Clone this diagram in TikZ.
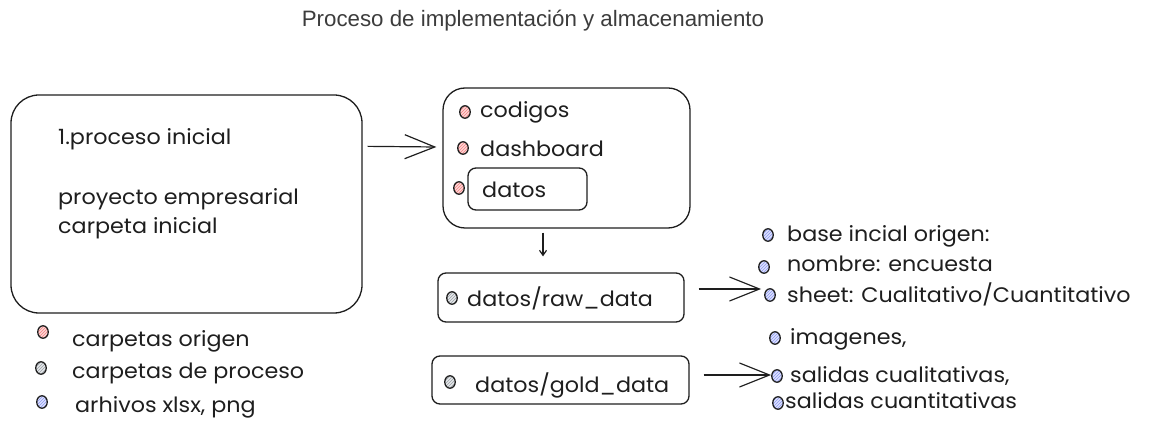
\documentclass[tikz,border=0pt]{standalone}
\usepackage{fontspec}
\setmainfont{Liberation Sans}
\newfontfamily\hand[FakeStretch=1.06]{Poppins}
\usetikzlibrary{arrows.meta,patterns,shapes.geometric}
\definecolor{ink}{HTML}{1E1E1E}
\definecolor{titlegray}{HTML}{3C3C3C}
\definecolor{redfill}{HTML}{FFD6D6}
\definecolor{redhatch}{HTML}{F08080}
\definecolor{grayfill}{HTML}{E6E8EA}
\definecolor{grayhatch}{HTML}{9AA0A6}
\definecolor{bluefill}{HTML}{DDE2FF}
\definecolor{bluehatch}{HTML}{8C98EE}
\tikzset{
  box/.style={draw=ink,line width=1.3pt,inner sep=0pt},
  lbl/.style={anchor=base west,inner sep=0pt,text=ink,font=\hand\fontsize{21}{24}\selectfont},
  dotbase/.style={ellipse,draw=ink,line width=1.3pt,minimum width=10.5pt,minimum height=12.5pt,inner sep=0pt},
  dotred/.style={dotbase,preaction={fill=redfill},pattern=north east lines,pattern color=redhatch},
  dotgray/.style={dotbase,preaction={fill=grayfill},pattern=north east lines,pattern color=grayhatch},
  dotblue/.style={dotbase,preaction={fill=bluefill},pattern=north east lines,pattern color=bluehatch},
  arr/.style={draw=ink,line width=1.2pt,-{Straight Barb[length=30pt,width=24pt]}},
  smallarr/.style={draw=ink,line width=1.2pt,-{Straight Barb[length=5pt,width=7pt]}}
}
\begin{document}
\begin{tikzpicture}[x=1pt,y=-1pt]
\useasboundingbox (0,0) rectangle (1167,427);
% title
\node[anchor=base,inner sep=0pt,text=titlegray,font=\fontsize{22.3}{26}\selectfont] (title) at (533,27) {Proceso de implementación y almacenamiento};
% big box
\node[box,rounded corners=28pt,minimum width=351pt,minimum height=218pt] (big) at (186.5,204) {};
\node[lbl] (t1) at (58,145) {1.proceso inicial};
\node[lbl] (t2) at (58,205) {proyecto empresarial};
\node[lbl] (t3) at (58,234) {carpeta inicial};
% legend
\node[dotred] (l1) at (43,332) {};
\node[lbl] (lt1) at (72,347) {carpetas origen};
\node[dotgray] (l2) at (41,368) {};
\node[lbl] (lt2) at (72,379) {carpetas de proceso};
\node[dotblue] (l3) at (42,402) {};
\node[lbl] (lt3) at (75,413) {arhivos xlsx, png};
% folder box
\node[box,rounded corners=22pt,minimum width=247pt,minimum height=140pt] (folder) at (566.5,158) {};
\node[dotred] (d1) at (465,112) {};
\node[lbl] (c1) at (480,118) {codigos};
\node[dotred] (d2) at (463,148) {};
\node[lbl] (c2) at (480,157) {dashboard};
\node[box,rounded corners=8pt,minimum width=119pt,minimum height=42pt] (datos) at (527.5,189) {};
\node[dotred] (d3) at (459,188) {};
\node[lbl] (c3) at (482,198) {datos};
% raw box
\node[box,rounded corners=8pt,minimum width=246pt,minimum height=49pt] (raw) at (561,297.5) {};
\node[dotgray] (rd) at (452,298) {};
\node[lbl] (rt) at (467,307) {datos/raw\_data};
% gold box
\node[box,rounded corners=8pt,minimum width=257pt,minimum height=48pt] (gold) at (560.5,380) {};
\node[dotgray] (gd) at (450,382) {};
\node[lbl] (gt) at (475,392) {datos/gold\_data};
% right lists
\node[dotblue] (b1) at (768,235) {};
\node[lbl] (bt1) at (787,242) {base incial origen:};
\node[dotblue] (b2) at (764,267) {};
\node[lbl] (bt2) at (787,272) {nombre: encuesta};
\node[dotblue] (b3) at (770,295) {};
\node[lbl] (bt3) at (787,303) {sheet: Cualitativo/Cuantitativo};
\node[dotblue] (s1) at (775,338) {};
\node[lbl] (st1) at (790,345) {imagenes,};
\node[dotblue] (s2) at (777,376) {};
\node[lbl] (st2) at (790,382) {salidas cualitativas,};
\node[dotblue] (s3) at (778,403) {};
\node[lbl] (st3) at (785,408) {salidas cuantitativas};
% connectors
\draw[arr] ([xshift=5pt,yshift=-52pt]big.north east) -- ([xshift=-6pt,yshift=11pt]folder.west);
\draw[smallarr] ([xshift=-23.5pt,yshift=-4pt]folder.south) -- ([xshift=-18pt,yshift=16pt]raw.north);
\draw[arr] ([xshift=14pt,yshift=8.5pt]raw.east) -- ([xshift=-3pt,yshift=6pt]b3.west);
\draw[arr] ([xshift=14pt,yshift=5pt]gold.east) -- ([xshift=0pt,yshift=1pt]s2.west);
\end{tikzpicture}
\end{document}
